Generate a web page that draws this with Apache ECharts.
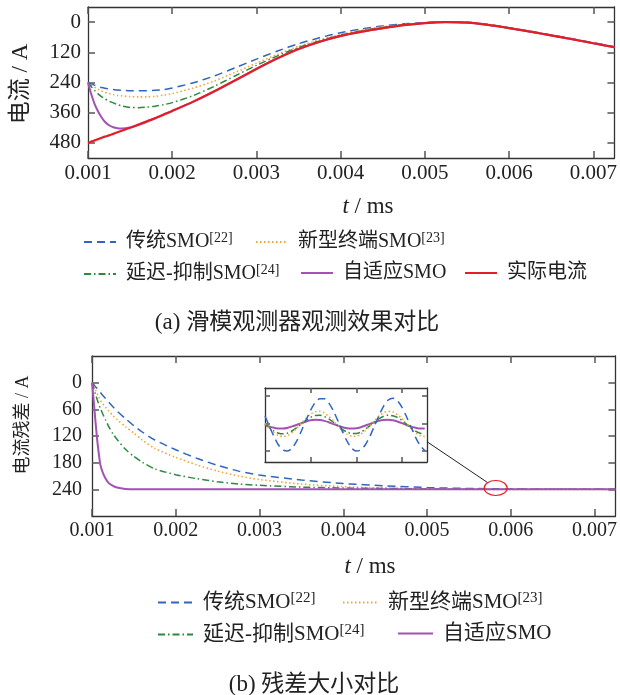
<!DOCTYPE html>
<html><head><meta charset="utf-8">
<script src="https://cdn.jsdelivr.net/npm/echarts@6/dist/echarts.min.js"></script>
<style>html,body{margin:0;padding:0;background:#fff}#c{width:620px;height:695px}</style>
</head><body><div id="c"></div>
<script>
// ---------- data ----------
const xTicks = [0.001, 0.002, 0.003, 0.004, 0.005, 0.006, 0.007];
const yTicksTop = [0, 120, 240, 360, 480];
const yTicksBot = [0, 60, 120, 180, 240];
const insetXTicks = [1, 2, 3];
const insetYTicks = [0, 1, 2];

const names = ['传统SMO', '新型终端SMO', '延迟-抑制SMO', '自适应SMO', '实际电流'];
const refs = {'传统SMO': '[22]', '新型终端SMO': '[23]', '延迟-抑制SMO': '[24]'};

// (a) observer output vs time (ms)
const tTop = [0.001, 0.00104, 0.00108, 0.00112, 0.00116, 0.0012, 0.00125, 0.0013, 0.00135, 0.0014,
  0.0015, 0.0016, 0.0017, 0.0018, 0.0019, 0.002, 0.00225, 0.0025, 0.00275, 0.003,
  0.00325, 0.0035, 0.00375, 0.004, 0.00425, 0.0045, 0.00475, 0.005, 0.00525, 0.0055,
  0.00575, 0.006, 0.00625, 0.0065, 0.00675, 0.007, 0.00725];
const realTop = [480, 475, 470, 465, 460, 455, 450, 444, 438, 432,
  420, 407, 394, 381, 367, 353, 316, 275, 231, 186,
  144, 107, 78, 55, 38, 24, 12, 4, 0, 2,
  11, 24, 38, 53, 68, 84, 100];
const blueTop = [240, 246, 251, 256, 260, 263, 266, 268, 270, 271,
  273, 273, 273, 271, 268, 262, 241, 214, 181, 147,
  115, 86, 62, 42, 27, 15, 7, 2, 0, 1,
  9, 22, 36, 51, 66, 82, 98];
const orangeTop = [240, 250, 259, 267, 274, 279, 284, 288, 291, 293,
  296, 297, 297, 295, 290, 284, 262, 234, 199, 163,
  128, 96, 70, 49, 32, 19, 9, 3, 0, 2,
  10, 23, 37, 52, 67, 83, 99];
const greenTop = [240, 257, 272, 285, 296, 305, 314, 321, 328, 333,
  339, 340, 338, 334, 328, 320, 292, 255, 213, 172,
  134, 101, 75, 52, 35, 21, 10, 3, 0, 2,
  11, 24, 38, 53, 68, 84, 100];
const purpleTop = [240, 288, 327, 355, 378, 396, 410, 418, 422, 423,
  419, 409, 396, 382, 367, 353, 316, 275, 231, 186,
  144, 107, 78, 55, 38, 24, 12, 4, 0, 2,
  11, 24, 38, 53, 68, 84, 100];

// (b) residual vs time (ms)
const tBot = [0.001, 0.00102, 0.00104, 0.00106, 0.00108, 0.0011, 0.00113, 0.00116, 0.0012, 0.00125,
  0.0013, 0.0014, 0.0015, 0.0016, 0.00175, 0.002, 0.00225, 0.0025, 0.00275, 0.003,
  0.0035, 0.004, 0.0045, 0.005, 0.0055, 0.006, 0.0065, 0.007, 0.00725];
const blueBot = [0, 4, 9, 13, 18, 22, 29, 35, 44, 54,
  64, 81, 97, 111, 129, 151, 170, 186, 199, 208,
  219, 227, 232, 236, 238, 239, 240, 240, 240];
const orangeBot = [0, 8, 16, 24, 32, 40, 48, 55, 64, 74,
  83, 99, 114, 129, 148, 168, 185, 199, 210, 218,
  228, 234, 237, 239, 240, 240, 240, 240, 240];
const greenBot = [0, 12, 25, 37, 48, 58, 71, 83, 99, 115,
  128, 150, 166, 179, 194, 207, 216, 223, 228, 231,
  235, 237, 238, 239, 240, 240, 240, 240, 240];
const purpleBot = [0, 40, 84, 125, 158, 185, 203, 215, 226, 232,
  236, 239, 240, 240, 240, 240, 240, 240, 240, 240,
  240, 240, 240, 240, 240, 240, 240, 240, 240];

// inset (zoomed residual ripple)
const insetX = [0, 0.1, 0.2, 0.3, 0.4, 0.5, 0.6, 0.7, 0.8, 0.9, 1.0, 1.1, 1.2, 1.3, 1.4, 1.5, 1.6, 1.7,
  1.8, 1.9, 2.0, 2.1, 2.2, 2.3, 2.4, 2.5, 2.6, 2.7, 2.8, 2.9, 3.0, 3.1, 3.2, 3.3, 3.4, 3.5];
const blueIn = [1.28, 0.89, 0.52, 0.21, 0.03, 0.00, 0.12, 0.38, 0.74, 1.13, 1.49, 1.77, 1.91, 1.91, 1.75, 1.46, 1.09, 0.70,
  0.35, 0.10, 0.00, 0.04, 0.23, 0.54, 0.92, 1.31, 1.64, 1.86, 1.93, 1.84, 1.60, 1.26, 0.87, 0.50, 0.20, 0.02];
const orangeIn = [1.00, 0.82, 0.67, 0.56, 0.53, 0.57, 0.68, 0.84, 1.02, 1.20, 1.35, 1.43, 1.45, 1.39, 1.26, 1.10, 0.91, 0.74,
  0.61, 0.54, 0.54, 0.62, 0.75, 0.93, 1.11, 1.28, 1.40, 1.45, 1.43, 1.33, 1.19, 1.01, 0.82, 0.67, 0.56, 0.53];
const greenIn = [0.98, 0.85, 0.73, 0.65, 0.63, 0.66, 0.74, 0.86, 0.99, 1.13, 1.23, 1.30, 1.31, 1.26, 1.17, 1.05, 0.91, 0.78,
  0.69, 0.64, 0.64, 0.69, 0.80, 0.93, 1.06, 1.18, 1.27, 1.31, 1.29, 1.23, 1.12, 0.98, 0.85, 0.73, 0.65, 0.63];
const purpleIn = [0.95, 0.89, 0.85, 0.82, 0.82, 0.85, 0.90, 0.96, 1.02, 1.08, 1.12, 1.14, 1.13, 1.10, 1.05, 0.98, 0.92, 0.87,
  0.83, 0.82, 0.83, 0.87, 0.93, 0.99, 1.05, 1.10, 1.13, 1.14, 1.12, 1.08, 1.02, 0.95, 0.89, 0.85, 0.82, 0.82];

// ---------- styles ----------
const FONT = "'Liberation Serif','Times New Roman','Noto Sans CJK SC',serif";
const TXT = '#222';
const AX = '#333';
const styles = {
  '传统SMO':   {color: '#2f66c0', width: 1.5, type: [8, 5]},
  '新型终端SMO': {color: '#f5a33a', width: 1.6, type: [1.5, 2.5]},
  '延迟-抑制SMO': {color: '#2b8a3e', width: 1.5, type: [7, 3, 1.5, 3]},
  '自适应SMO':  {color: '#a550b5', width: 2, type: 'solid'},
  '实际电流':   {color: '#e41e26', width: 2.2, type: 'solid'}
};
const zip = (xs, ys) => xs.map((x, i) => [x, ys[i]]);
function line(name, xi, yi, data, z) {
  const s = styles[name];
  return {type: 'line', name, xAxisIndex: xi, yAxisIndex: yi, data, symbol: 'none', smooth: 0.25,
    animation: false, z: z || 2, color: s.color,
    lineStyle: {color: s.color, width: s.width, type: s.type}};
}

function xAxis(grid, pos, min, max, ticks, labels, fs, margin, tickLen) {
  return {type: 'value', gridIndex: grid, position: pos, min, max,
    axisLine: {show: true, onZero: false, lineStyle: {color: AX, width: 1.3}},
    axisTick: {show: true, inside: true, length: tickLen, customValues: ticks, lineStyle: {color: '#555', width: 1.5}},
    axisLabel: {show: labels, customValues: ticks, margin, fontFamily: FONT, fontSize: fs, color: TXT,
      formatter: v => Number(v).toFixed(3)},
    splitLine: {show: false}};
}
function yAxis(grid, pos, min, max, ticks, labels, fs, margin, inverse, tickLen) {
  return {type: 'value', gridIndex: grid, position: pos, min, max, inverse,
    axisLine: {show: true, onZero: false, lineStyle: {color: AX, width: 1.3}},
    axisTick: {show: true, inside: true, length: tickLen, customValues: ticks, lineStyle: {color: '#555', width: 1.5}},
    axisLabel: {show: labels, customValues: ticks, margin, fontFamily: FONT, fontSize: fs, color: TXT},
    splitLine: {show: false}};
}

function legend(name, left, cy, w, fs) {
  return {data: [name], left, top: cy - 12, itemWidth: w, itemHeight: 12, padding: 0,
    selectedMode: false,
    itemStyle: {opacity: 0, color: 'rgba(0,0,0,0)', borderWidth: 0},
    formatter: n => refs[n] ? n + '{s|' + refs[n] + '}' : n,
    textStyle: {fontFamily: FONT, fontSize: fs, color: TXT, padding: [0, 0, 0, 5],
      rich: {s: {fontFamily: FONT, fontSize: Math.round(fs * 0.7), color: TXT, padding: [0, 0, 8, 0]}}}};
}

const XMIN = 0.001, XMAX = 0.00725;

const option = {
  backgroundColor: '#fff',
  animation: false,
  grid: [
    {left: 88, top: 7, width: 528, height: 151},
    {left: 92, top: 356, width: 527, height: 160},
    {left: 265, top: 388, width: 162, height: 74, show: true, backgroundColor: '#fff', borderWidth: 0, z: 5}
  ],
  xAxis: [
    xAxis(0, 'bottom', XMIN, XMAX, xTicks, true, 21, 5, 7),
    xAxis(0, 'top', XMIN, XMAX, xTicks, false, 21, 5, 7),
    xAxis(1, 'bottom', XMIN, XMAX, xTicks, true, 20, 5, 7),
    xAxis(1, 'top', XMIN, XMAX, xTicks, false, 20, 5, 7),
    Object.assign(xAxis(2, 'bottom', 0, 3.55, insetXTicks, false, 12, 5, 5), {z: 6}),
    Object.assign(xAxis(2, 'top', 0, 3.55, insetXTicks, false, 12, 5, 5), {z: 6})
  ],
  yAxis: [
    yAxis(0, 'left', -60, 540, yTicksTop, true, 21, 7, true, 7),
    yAxis(0, 'right', -60, 540, yTicksTop, false, 21, 7, true, 7),
    yAxis(1, 'left', -60, 300, yTicksBot, true, 20, 10, true, 7),
    yAxis(1, 'right', -60, 300, yTicksBot, false, 20, 10, true, 7),
    Object.assign(yAxis(2, 'left', -0.4, 2.3, insetYTicks, false, 12, 5, false, 5), {z: 6}),
    Object.assign(yAxis(2, 'right', -0.4, 2.3, insetYTicks, false, 12, 5, false, 5), {z: 6})
  ],
  legend: [
    legend('传统SMO', 83, 243, 32, 20),
    legend('新型终端SMO', 255, 243, 32, 20),
    legend('延迟-抑制SMO', 83, 275, 32, 20),
    legend('自适应SMO', 300, 275, 32, 20),
    legend('实际电流', 464, 275, 32, 20),
    legend('传统SMO', 157, 603, 35, 21),
    legend('新型终端SMO', 342, 603, 35, 21),
    legend('延迟-抑制SMO', 157, 635, 35, 21),
    legend('自适应SMO', 397, 635, 35, 21)
  ],
  series: [
    line('传统SMO', 0, 0, zip(tTop, blueTop)),
    line('新型终端SMO', 0, 0, zip(tTop, orangeTop)),
    line('延迟-抑制SMO', 0, 0, zip(tTop, greenTop)),
    line('自适应SMO', 0, 0, zip(tTop, purpleTop)),
    line('实际电流', 0, 0, zip(tTop, realTop), 3),
    line('传统SMO', 2, 2, zip(tBot, blueBot)),
    line('新型终端SMO', 2, 2, zip(tBot, orangeBot)),
    line('延迟-抑制SMO', 2, 2, zip(tBot, greenBot)),
    line('自适应SMO', 2, 2, zip(tBot, purpleBot)),
    line('自适应SMO', 4, 4, zip(insetX, purpleIn), 7),
    line('延迟-抑制SMO', 4, 4, zip(insetX, greenIn), 7),
    line('新型终端SMO', 4, 4, zip(insetX, orangeIn), 7),
    line('传统SMO', 4, 4, zip(insetX, blueIn), 7)
  ]
};

const chart = echarts.init(document.getElementById('c'), null, {renderer: 'canvas'});
chart.setOption(option);

// annotations: titles, captions, zoom marker
const c = chart.convertToPixel({xAxisIndex: 2, yAxisIndex: 2}, [0.00582, 237]);
const p0 = chart.convertToPixel({xAxisIndex: 4, yAxisIndex: 4}, [3.55, 0.34]);
const rx = 11.5, ry = 7.5;
const dx = p0[0] - c[0], dy = p0[1] - c[1];
const k = 1 / Math.sqrt((dx / rx) ** 2 + (dy / ry) ** 2);
const endPt = [c[0] + dx * k, c[1] + dy * k];

const tStyle = (text, fs, extra) => Object.assign({text, fontFamily: FONT, fontSize: fs, fill: TXT,
  textAlign: 'center', textVerticalAlign: 'middle'}, extra || {});
chart.setOption({
  graphic: [
    {type: 'text', x: 21, y: 84, rotation: Math.PI / 2, style: tStyle('电流 / A', 23)},
    {type: 'text', x: 23, y: 425, rotation: Math.PI / 2, style: tStyle('电流残差 / A', 18)},
    {type: 'text', x: 368, y: 207, style: {text: '{i|t} / ms', fontFamily: FONT, fontSize: 23, fill: TXT,
      textAlign: 'center', textVerticalAlign: 'middle',
      rich: {i: {fontFamily: FONT, fontSize: 23, fontStyle: 'italic', fill: TXT}}}},
    {type: 'text', x: 370, y: 567, style: {text: '{i|t} / ms', fontFamily: FONT, fontSize: 23, fill: TXT,
      textAlign: 'center', textVerticalAlign: 'middle',
      rich: {i: {fontFamily: FONT, fontSize: 23, fontStyle: 'italic', fill: TXT}}}},
    {type: 'text', x: 297, y: 323, style: tStyle('(a) 滑模观测器观测效果对比', 23)},
    {type: 'text', x: 314, y: 685, style: tStyle('(b) 残差大小对比', 23)},
    {type: 'line', z: 20, shape: {x1: p0[0], y1: p0[1], x2: endPt[0], y2: endPt[1]},
      style: {stroke: '#222', lineWidth: 1}},
    {type: 'ellipse', z: 20, shape: {cx: c[0], cy: c[1], rx, ry},
      style: {stroke: '#e41e26', lineWidth: 1.2, fill: 'none'}}
  ]
});
</script>
</body></html>
